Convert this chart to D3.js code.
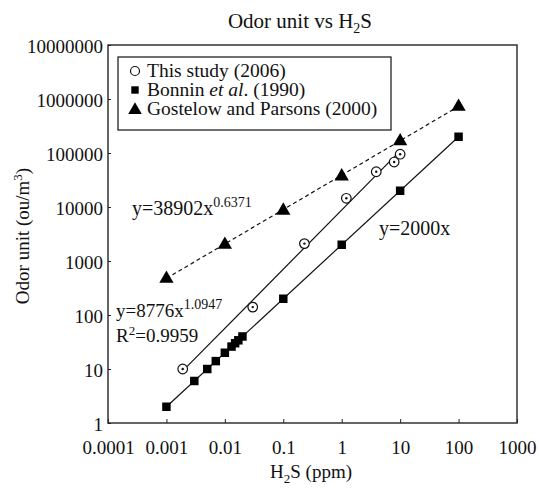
<!DOCTYPE html>
<html>
<head>
<meta charset="utf-8">
<script src="https://cdn.jsdelivr.net/npm/d3@7"></script>
<style>
  body { margin: 0; background: #fff; }
  .axis path, .axis line { stroke: #222; }
</style>
</head>
<body>
<svg id="chart" width="539" height="491"></svg>
<script>
// data
const xTicks = [0.0001, 0.001, 0.01, 0.1, 1, 10, 100, 1000];
const xTickLabels = ['0.0001', '0.001', '0.01', '0.1', '1', '10', '100', '1000'];
const yTicks = [1, 10, 100, 1000, 10000, 100000, 1000000, 10000000];
const yTickLabels = ['1', '10', '100', '1000', '10000', '100000', '1000000', '10000000'];

const studyX = [0.0019, 0.03, 0.23, 1.2, 3.9, 7.9, 10];
const studyY = [10, 140, 2100, 14500, 45000, 68000, 95000];

const bonninX = [0.001, 0.003, 0.005, 0.007, 0.01, 0.013, 0.015, 0.017, 0.02, 0.1, 1, 10, 100];
const bonninY = [2, 6, 10, 14, 20, 26, 30, 34, 40, 200, 2000, 20000, 200000];

const gostX = [0.001, 0.01, 0.1, 1, 10, 100];
const gostY = [470, 2000, 8600, 37000, 165000, 720000];

const legendLabels = ['This study (2006)', 'Bonnin et al. (1990)', 'Gostelow and Parsons (2000)'];

const FONT = "'Liberation Serif', 'DejaVu Serif', serif";

const svg = d3.select('#chart');
const margin = {left: 108, right: 22, top: 45, bottom: 68};
const width = 539 - margin.left - margin.right;
const height = 491 - margin.top - margin.bottom;

const x = d3.scaleLog().domain([0.0001, 1000]).range([margin.left, margin.left + width]);
const y = d3.scaleLog().domain([1, 10000000]).range([margin.top + height, margin.top]);

// frame
svg.append('rect')
  .attr('x', margin.left).attr('y', margin.top)
  .attr('width', width).attr('height', height)
  .attr('fill', 'none').attr('stroke', '#333').attr('stroke-width', 1.5);

let xAxis = svg.append('g')
  .attr('class', 'axis')
  .attr('transform', `translate(0,${margin.top + height})`)
  .call(d3.axisBottom(x).tickValues(xTicks).tickSize(-4).tickPadding(18)
    .tickFormat((d, i) => xTickLabels[i]));
xAxis.select('.domain').remove();
xAxis.selectAll('text').style('font-size', '19px');

let yAxis = svg.append('g')
  .attr('class', 'axis')
  .attr('transform', `translate(${margin.left},0)`)
  .call(d3.axisLeft(y).tickValues(yTicks).tickSize(-3).tickPadding(5)
    .tickFormat((d, i) => yTickLabels[i]));
yAxis.select('.domain').remove();
yAxis.selectAll('text').style('font-size', '19px').attr('dy', '0.4em');

// titles
let title = svg.append('text')
  .attr('x', 300).attr('y', 28)
  .attr('text-anchor', 'middle')
  .style('font-size', '21px');
title.append('tspan').text('Odor unit vs H');
title.append('tspan').text('2').attr('dy', 5).style('font-size', '14px');
title.append('tspan').text('S').attr('dy', -5);

let xLabel = svg.append('text')
  .attr('x', 311).attr('y', 478)
  .attr('text-anchor', 'middle')
  .style('font-size', '19px');
xLabel.append('tspan').text('H');
xLabel.append('tspan').text('2').attr('dy', 5).style('font-size', '13px');
xLabel.append('tspan').text('S (ppm)').attr('dy', -5);

let yLabel = svg.append('text')
  .attr('transform', 'translate(29,236) rotate(-90)')
  .attr('text-anchor', 'middle')
  .style('font-size', '19px');
yLabel.append('tspan').text('Odor unit (ou/m');
yLabel.append('tspan').text('3').attr('dy', -7).style('font-size', '13px');
yLabel.append('tspan').text(')').attr('dy', 7);

// fitted lines
const gostFit = xv => 38902 * Math.pow(xv, 0.6371);
const studyFit = xv => 8776 * Math.pow(xv, 1.0947);
const bonninFit = xv => 2000 * xv;

const line = d3.line().x(d => x(d[0])).y(d => y(d[1]));

function fitSegment(xs, fit) {
  let a = xs[0], b = xs[xs.length - 1];
  return [[a, fit(a)], [b, fit(b)]];
}

svg.append('path')
  .datum(fitSegment(gostX, gostFit))
  .attr('d', line).attr('fill', 'none').attr('stroke', '#111')
  .attr('stroke-width', 1.2).attr('stroke-dasharray', '4,3');

svg.append('path')
  .datum(fitSegment(studyX, studyFit))
  .attr('d', line).attr('fill', 'none').attr('stroke', '#111').attr('stroke-width', 1.2);

svg.append('path')
  .datum(fitSegment(bonninX, bonninFit))
  .attr('d', line).attr('fill', 'none').attr('stroke', '#111').attr('stroke-width', 1.2);

// markers
const sq = d3.symbol().type(d3.symbolSquare).size(72);
const tri = d3.symbol().type(d3.symbolTriangle).size(88);

svg.selectAll('.bonnin').data(bonninX).enter()
  .append('path').attr('class', 'bonnin')
  .attr('d', sq)
  .attr('transform', (d, i) => `translate(${x(d)},${y(bonninY[i])})`)
  .attr('fill', '#000');

svg.selectAll('.gost').data(gostX).enter()
  .append('path').attr('class', 'gost')
  .attr('d', tri)
  .attr('transform', (d, i) => `translate(${x(d)},${y(gostY[i])})`)
  .attr('fill', '#000');

let study = svg.selectAll('.study').data(studyX).enter()
  .append('g').attr('class', 'study')
  .attr('transform', (d, i) => `translate(${x(d)},${y(studyY[i])})`);
study.append('circle').attr('r', 4.8).attr('fill', '#fff').attr('stroke', '#111').attr('stroke-width', 1.2);
study.append('circle').attr('r', 1.2).attr('fill', '#111');

// annotations
let ann1 = svg.append('text').attr('x', 132).attr('y', 215).style('font-size', '20px');
ann1.append('tspan').text('y=38902x');
ann1.append('tspan').text('0.6371').attr('dy', -8).style('font-size', '14px');

let ann2 = svg.append('text').attr('x', 116).attr('y', 317).style('font-size', '19px');
ann2.append('tspan').text('y=8776x');
ann2.append('tspan').text('1.0947').attr('dy', -8).style('font-size', '14px');

let ann3 = svg.append('text').attr('x', 116).attr('y', 342).style('font-size', '19px');
ann3.append('tspan').text('R');
ann3.append('tspan').text('2').attr('dy', -7).style('font-size', '13px');
ann3.append('tspan').text('=0.9959').attr('dy', 7);

svg.append('text').attr('x', 379).attr('y', 235).style('font-size', '20px').text('y=2000x');

// legend
svg.append('rect')
  .attr('x', 118).attr('y', 57).attr('width', 273).attr('height', 73)
  .attr('fill', '#fff').attr('stroke', '#111').attr('stroke-width', 1.2);

const legendY = [71, 90, 109];
svg.append('circle').attr('cx', 135).attr('cy', legendY[0]).attr('r', 4.5)
  .attr('fill', 'none').attr('stroke', '#111').attr('stroke-width', 1.2);
svg.append('path').attr('d', d3.symbol().type(d3.symbolSquare).size(55))
  .attr('transform', `translate(135,${legendY[1]})`).attr('fill', '#000');
svg.append('path').attr('d', d3.symbol().type(d3.symbolTriangle).size(80))
  .attr('transform', `translate(135,${legendY[2] + 1})`).attr('fill', '#000');

svg.append('text').attr('x', 147).attr('y', legendY[0] + 6).style('font-size', '19.5px').text(legendLabels[0]);
let lb = svg.append('text').attr('x', 147).attr('y', legendY[1] + 6).style('font-size', '19.5px');
lb.append('tspan').text('Bonnin ');
lb.append('tspan').text('et al').style('font-style', 'italic');
lb.append('tspan').text('. (1990)');
svg.append('text').attr('x', 147).attr('y', legendY[2] + 6).style('font-size', '19.5px').text(legendLabels[2]);

// serif everywhere, including the axis labels d3 marks as sans-serif
svg.selectAll('g.axis').attr('font-family', null).attr('font-size', null);
svg.selectAll('text')
  .style('font-family', FONT)
  .style('fill', '#111');
</script>
</body>
</html>
